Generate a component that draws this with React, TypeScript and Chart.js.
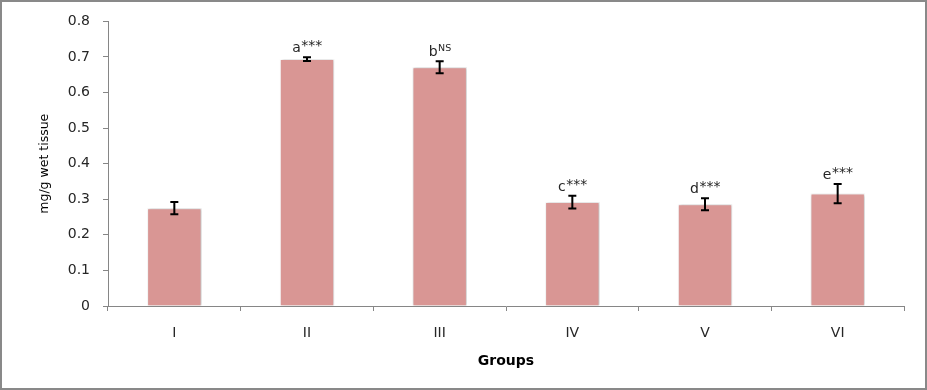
import React, { useEffect, useRef } from "react";
import { Chart, registerables } from "chart.js";

Chart.register(...registerables);

const categories = ["I", "II", "III", "IV", "V", "VI"];
const means = [0.275, 0.694, 0.671, 0.292, 0.286, 0.316];
const errors = [0.017, 0.005, 0.017, 0.018, 0.017, 0.027];
const letters = ["", "a", "b", "c", "d", "e"];
const marks = ["", "***", "NS", "***", "***", "***"];
const yTicksMax = 0.8;
const yStep = 0.1;

const W = 927;
const H = 390;

const framePlugin = {
  id: "frame",
  beforeDraw(chart: any) {
    const ctx = chart.ctx;
    ctx.save();
    ctx.fillStyle = "#ffffff";
    ctx.fillRect(0, 0, chart.width, chart.height);
    ctx.strokeStyle = "#898989";
    ctx.lineWidth = 2;
    ctx.strokeRect(1, 1, chart.width - 2, chart.height - 2);
    ctx.restore();
  },
};

const shadowPlugin = {
  id: "barShadow",
  beforeDatasetsDraw(chart: any) {
    const ctx = chart.ctx;
    ctx.save();
    ctx.shadowColor = "rgba(0,0,0,0.25)";
    ctx.shadowBlur = 3;
    ctx.shadowOffsetX = 1;
    ctx.shadowOffsetY = 0;
  },
  afterDatasetsDraw(chart: any) {
    chart.ctx.restore();
  },
};

const errorPlugin = {
  id: "errorBars",
  afterDatasetsDraw(chart: any) {
    const ctx = chart.ctx;
    const xs = chart.scales.x;
    const ys = chart.scales.y;
    ctx.save();
    ctx.strokeStyle = "#000000";
    ctx.lineWidth = 2;
    means.forEach((m, i) => {
      const x = xs.getPixelForValue(i);
      const top = ys.getPixelForValue(m + errors[i]);
      const bot = ys.getPixelForValue(m - errors[i]);
      ctx.beginPath();
      ctx.moveTo(x, top);
      ctx.lineTo(x, bot);
      ctx.moveTo(x - 4, top);
      ctx.lineTo(x + 4, top);
      ctx.moveTo(x - 4, bot);
      ctx.lineTo(x + 4, bot);
      ctx.stroke();
      if (letters[i]) {
        const base = top - 5;
        const isNS = marks[i] === "NS";
        const markFont = isNS ? "9.5px 'DejaVu Sans'" : "14px 'DejaVu Sans'";
        const lift = isNS ? 5 : 2;
        ctx.font = "14px 'DejaVu Sans'";
        const lw = ctx.measureText(letters[i]).width;
        ctx.font = markFont;
        const mw = ctx.measureText(marks[i]).width;
        const start = x - (lw + mw) / 2;
        ctx.fillStyle = "#262626";
        ctx.textBaseline = "alphabetic";
        ctx.textAlign = "left";
        ctx.font = "14px 'DejaVu Sans'";
        ctx.fillText(letters[i], start, base);
        ctx.font = markFont;
        ctx.fillText(marks[i], start + lw + 0.5, base - lift);
      }
    });
    ctx.restore();
  },
};

export default function App() {
  const ref = useRef<HTMLCanvasElement | null>(null);
  useEffect(() => {
    document.body.style.margin = "0";
    const chart = new Chart(ref.current as HTMLCanvasElement, {
      type: "bar",
      data: {
        labels: categories,
        datasets: [
          {
            data: means,
            backgroundColor: "#D99694",
            borderColor: "#ffffff",
            borderWidth: 1,
            barPercentage: 0.41,
            categoryPercentage: 1,
          },
        ],
      },
      options: {
        animation: false,
        responsive: false,
        devicePixelRatio: 1,
        layout: { padding: { top: 19, right: 23, left: 0, bottom: 0 } },
        plugins: { legend: { display: false }, tooltip: { enabled: false } },
        scales: {
          x: {
            grid: {
              display: true,
              drawOnChartArea: false,
              offset: true,
              tickLength: 5,
              color: "#868686",
              lineWidth: 1,
            },
            border: { display: true, color: "#868686", width: 1 },
            ticks: {
              color: "#262626",
              font: { family: "'DejaVu Sans'", size: 14 },
              padding: 14,
            },
            title: {
              display: true,
              text: "Groups",
              color: "#000000",
              font: { family: "'DejaVu Sans'", size: 14, weight: "bold" },
              padding: { top: 0, bottom: 20 },
            },
            afterFit(scale: any) {
              scale.height = 84;
            },
          },
          y: {
            min: 0,
            max: yTicksMax,
            ticks: {
              stepSize: yStep,
              color: "#262626",
              font: { family: "'DejaVu Sans'", size: 14 },
              padding: 13,
            },
            grid: {
              display: true,
              drawOnChartArea: false,
              tickLength: 5,
              color: "#868686",
            },
            border: { display: true, color: "#868686", width: 1 },
            title: {
              display: true,
              text: "mg/g wet tissue",
              color: "#000000",
              font: { family: "'DejaVu Sans'", size: 12.5 },
              padding: { top: 37, bottom: 0 },
            },
            afterFit(scale: any) {
              scale.width = 108;
            },
          },
        },
      },
      plugins: [framePlugin, shadowPlugin, errorPlugin],
    });
    return () => chart.destroy();
  }, []);
  return (
    <div style={{ position: "fixed", left: 0, top: 0, width: W, height: H }}>
      <canvas ref={ref} width={W} height={H} style={{ display: "block" }} />
    </div>
  );
}
